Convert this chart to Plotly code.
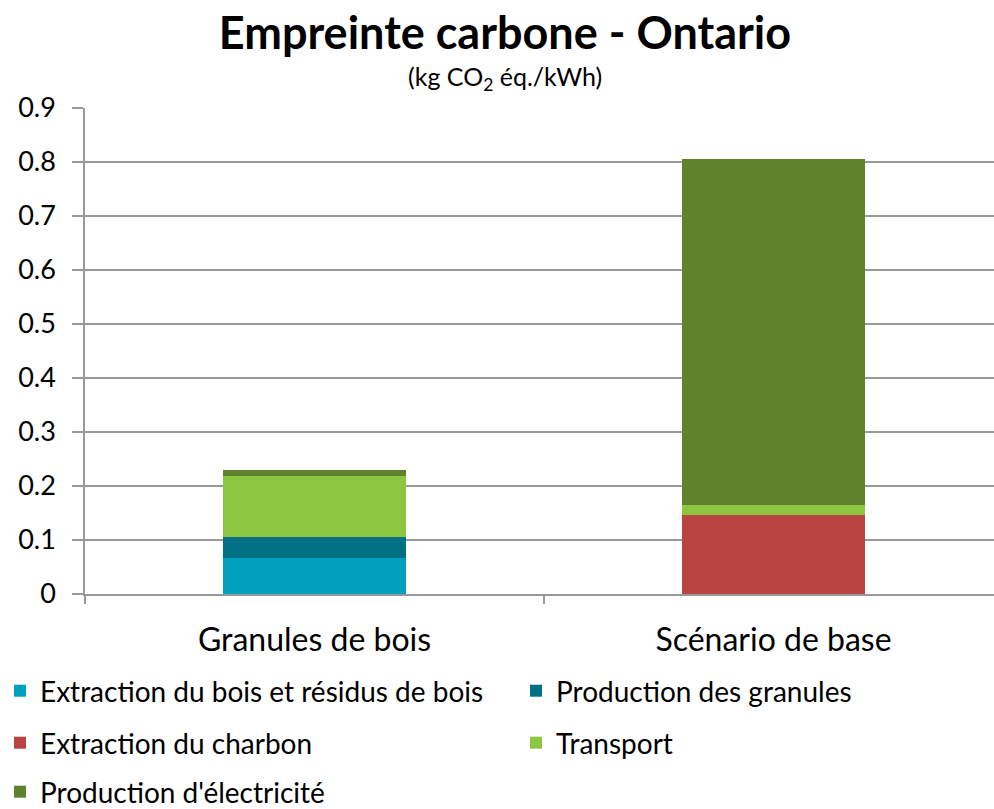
import plotly.graph_objects as go

categories = ["Granules de bois", "Scénario de base"]
series_names = [
    "Extraction du bois et résidus de bois",
    "Production des granules",
    "Extraction du charbon",
    "Transport",
    "Production d'électricité",
]
extraction_bois = [0.067, 0.0]
production_granules = [0.038, 0.0]
extraction_charbon = [0.0, 0.146]
transport = [0.114, 0.018]
production_elec = [0.010, 0.642]
y_ticks = [0, 0.1, 0.2, 0.3, 0.4, 0.5, 0.6, 0.7, 0.8, 0.9]
y_tick_text = ["0", "0.1", "0.2", "0.3", "0.4", "0.5", "0.6", "0.7", "0.8", "0.9"]

colors = ["#00A0BE", "#007184", "#B94441", "#8DC641", "#5E832C"]
values = [extraction_bois, production_granules, extraction_charbon, transport, production_elec]
legend_ids = ["legend", "legend2", "legend3", "legend4", "legend5"]

FONT = "Lato, Carlito, Calibri, sans-serif"
# plot area in the reference runs slightly past the right edge of the 994px view
W, H = 1003, 809

fig = go.Figure()
for name, vals, col, lg in zip(series_names, values, colors, legend_ids):
    fig.add_trace(go.Bar(
        x=categories, y=vals, name=name, marker_color=col,
        marker_line_width=0, legend=lg, showlegend=True,
    ))

def leg(xpx, ypx):
    return dict(
        visible=True,
        orientation="h", xref="container", yref="container",
        xanchor="left", yanchor="middle", x=xpx / W, y=1 - ypx / H,
        font=dict(family=FONT, size=28, color="#000"),
        bgcolor="rgba(0,0,0,0)", traceorder="normal",
    )

col1, col2 = 0, 516
rows = [691, 743, 792]

fig.update_layout(
    width=W, height=H,
    showlegend=True,
    paper_bgcolor="white", plot_bgcolor="white",
    margin=dict(l=85, r=0, t=108, b=215, autoexpand=False),
    barmode="stack", bargap=0.6,
    font=dict(family=FONT, size=24, color="#000"),
    title=dict(
        text="<b>Empreinte carbone - Ontario</b>",
        x=505 / W, xanchor="center", y=1 - 33 / H, yanchor="middle",
        xref="container", yref="container",
        font=dict(family=FONT, size=45, color="#000"),
    ),
    annotations=[dict(
        text="(kg CO<sub>2</sub> éq./kWh)", xref="paper", yref="paper",
        x=(505 - 85) / (W - 85), y=(594 - 78) / 486, xanchor="center", yanchor="middle",
        showarrow=False, font=dict(family=FONT, size=25, color="#000"),
    )],
    legend=leg(col1, rows[0]),
    legend2=leg(col2, rows[0]),
    legend3=leg(col1, rows[1]),
    legend4=leg(col2, rows[1]),
    legend5=leg(col1, rows[2]),
    xaxis=dict(
        showline=True, linecolor="#999999", linewidth=1.5,
        ticks="outside", tickson="boundaries", ticklen=8, tickcolor="#999999",
        tickwidth=1.5, showgrid=False,
        tickfont=dict(family=FONT, size=32, color="#000"),
        ticklabelstandoff=17,
    ),
    yaxis=dict(
        range=[0, 0.9], tickvals=y_ticks, ticktext=y_tick_text,
        showline=True, linecolor="#999999", linewidth=1.5,
        ticks="outside", ticklen=11, tickcolor="#999999", tickwidth=1.5,
        showgrid=True, gridcolor="#999999", gridwidth=1.5,
        zeroline=False,
        tickfont=dict(family=FONT, size=27, color="#000"),
        ticklabelstandoff=11,
    ),
)

fig.write_html(
    "out.html",
    config={"displayModeBar": False},
    post_script="document.body.style.margin='0';document.body.style.overflow='hidden';",
)
